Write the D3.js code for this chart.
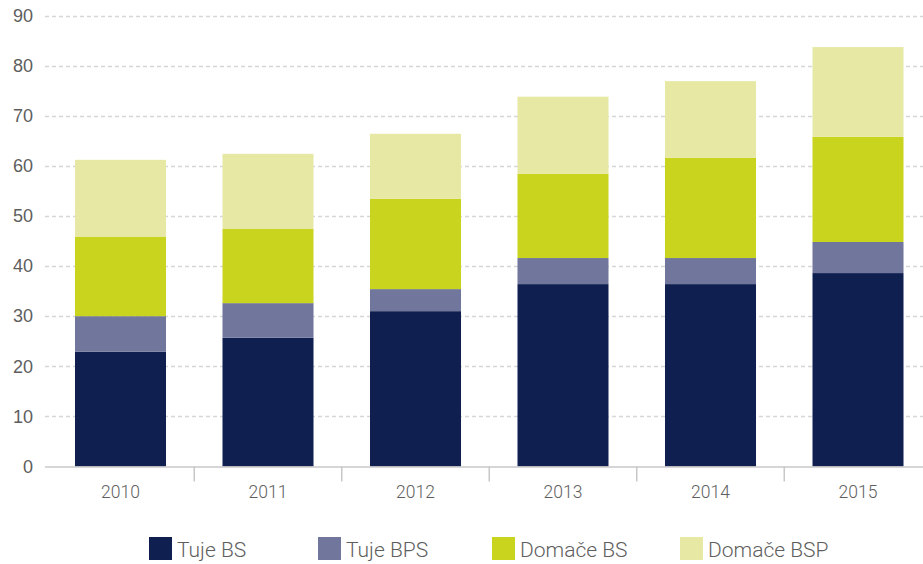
<!DOCTYPE html>
<html>
<head>
<meta charset="utf-8">
<script src="https://cdn.jsdelivr.net/npm/d3@7"></script>
<style>
  html, body { margin: 0; padding: 0; background: #fff; }
  svg { display: block; font-family: Roboto, "Noto Sans", sans-serif; }
</style>
</head>
<body>
<div id="container"></div>
<script>
/* DATA */
const years = ["2010", "2011", "2012", "2013", "2014", "2015"];
const seriesNames = ["Tuje BS", "Tuje BPS", "Domače BS", "Domače BSP"];
const tujeBS = [22.9, 25.7, 31.0, 36.4, 36.4, 38.6];
const tujeBPS = [7.1, 6.9, 4.4, 5.2, 5.2, 6.2];
const domaceBS = [15.8, 14.8, 18.0, 16.8, 20.0, 21.0];
const domaceBSP = [15.4, 15.0, 13.0, 15.4, 15.3, 17.9];
const yTicks = [0, 10, 20, 30, 40, 50, 60, 70, 80, 90];
const colors = ["#0f2050", "#70769c", "#c9d41f", "#e6e8a4"];

/* CONSTANTS */
const width = 923, height = 564;
const legendX = [149, 318, 492, 680]; /* legend item start positions */

/* build rows for the stack */
const rows = years.map((y, i) => ({
  year: y,
  "Tuje BS": tujeBS[i],
  "Tuje BPS": tujeBPS[i],
  "Domače BS": domaceBS[i],
  "Domače BSP": domaceBSP[i]
}));
const stacked = d3.stack().keys(seriesNames)(rows);

/* SCALES */
const xScale = d3.scaleBand()
  .domain(years)
  .range([46.75, 931.75])
  .paddingInner(0.383)
  .paddingOuter(0.1915);

const yScale = d3.scaleLinear()
  .domain([0, 90])
  .range([466.5, 15.5]);

const color = d3.scaleOrdinal().domain(seriesNames).range(colors);

const svg = d3.select("#container")
  .append("svg")
  .attr("width", width)
  .attr("height", height);

/* GRIDLINES + Y LABELS */
const yAxis = d3.axisLeft(yScale)
  .tickValues(yTicks)
  .tickSize(0)
  .tickPadding(12);

const yGroup = svg.append("g")
  .attr("transform", "translate(45,0)")
  .call(yAxis);
yGroup.select(".domain").remove();
yGroup.selectAll(".tick text")
  .attr("fill", "#5e5e5e")
  .style("font-size", "18px")
  .style("font-weight", 300);

svg.append("g")
  .selectAll("line")
  .data(yTicks.filter(d => d > 0))
  .join("line")
  .attr("x1", 45)
  .attr("x2", width)
  .attr("y1", d => Math.round(yScale(d)) + 0.5)
  .attr("y2", d => Math.round(yScale(d)) + 0.5)
  .attr("stroke", "#d6d6d6")
  .attr("stroke-width", 1.3)
  .attr("stroke-dasharray", "4,3");

/* BARS */
svg.append("g")
  .selectAll("g")
  .data(stacked)
  .join("g")
  .attr("fill", d => color(d.key))
  .selectAll("rect")
  .data(d => d)
  .join("rect")
  .attr("x", d => xScale(d.data.year))
  .attr("width", xScale.bandwidth())
  .attr("y", d => yScale(d[1]))
  .attr("height", d => yScale(d[0]) - yScale(d[1]));

/* X AXIS */
const axisY = yScale(0);
svg.append("line")
  .attr("x1", 45)
  .attr("x2", width)
  .attr("y1", axisY + 0.5)
  .attr("y2", axisY + 0.5)
  .attr("stroke", "#c8c8c8")
  .attr("stroke-width", 1.5);

/* separator ticks between categories */
const step = xScale.step();
svg.append("g")
  .selectAll("line")
  .data(years.slice(1))
  .join("line")
  .attr("x1", d => xScale(d) - (step - xScale.bandwidth()) / 2)
  .attr("x2", d => xScale(d) - (step - xScale.bandwidth()) / 2)
  .attr("y1", axisY)
  .attr("y2", axisY + 15)
  .attr("stroke", "#c8c8c8")
  .attr("stroke-width", 1.5);

svg.append("g")
  .selectAll("text")
  .data(years)
  .join("text")
  .attr("x", d => xScale(d) + xScale.bandwidth() / 2)
  .attr("y", 498)
  .attr("text-anchor", "middle")
  .attr("fill", "#5e5e5e")
  .style("font-size", "17.5px")
  .style("font-weight", 300)
  .text(d => d);

/* LEGEND */
const legend = svg.append("g")
  .selectAll("g")
  .data(seriesNames)
  .join("g")
  .attr("transform", (d, i) => `translate(${legendX[i]},537)`);

legend.append("rect")
  .attr("width", 23)
  .attr("height", 23)
  .attr("fill", d => color(d));

legend.append("text")
  .attr("x", 28)
  .attr("y", 19.5)
  .attr("fill", "#5e5e5e")
  .style("font-size", "21px")
  .style("font-weight", 300)
  .text(d => d);
</script>
</body>
</html>
